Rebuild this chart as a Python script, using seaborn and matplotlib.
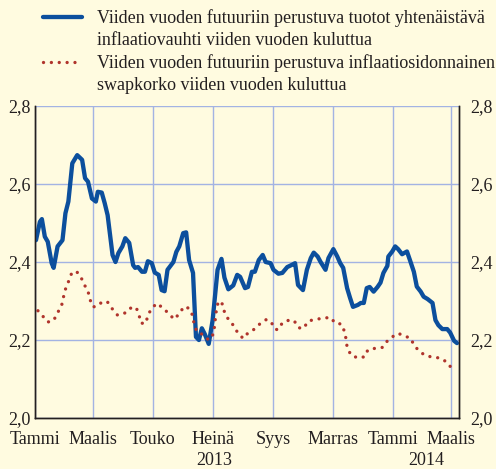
import pandas as pd
import matplotlib.pyplot as plt
import matplotlib.dates as mdates
from matplotlib.lines import Line2D
import seaborn as sns

# values (days counted from 1 Jan 2013)
blue_day = [1, 5, 7, 10, 13, 17, 19, 23, 28, 31, 34, 38, 43, 48, 51, 54, 58, 62, 64, 68,
            71, 74, 79, 82, 85, 89, 92, 96, 100, 102, 105, 109, 112, 115, 119, 122, 126, 129, 132, 135,
            138, 141, 144, 147, 151, 154, 157, 161, 164, 167, 170, 173, 177, 181, 184, 186, 190, 193, 197, 202,
            206, 209, 214, 217, 221, 224, 228, 232, 235, 240, 243, 248, 252, 257, 262, 265, 268, 273, 277, 281,
            284, 288, 291, 296, 299, 304, 308, 311, 314, 318, 321, 324, 329, 332, 335, 338, 341, 345, 349, 352,
            355, 359, 360, 364, 367, 370, 374, 379, 382, 386, 389, 393, 396, 400, 405, 408, 411, 415, 420, 423,
            427, 430]
blue_val = [2.456, 2.503, 2.51, 2.465, 2.452, 2.397, 2.385, 2.44, 2.456, 2.525, 2.555, 2.653, 2.674, 2.662, 2.615, 2.606, 2.563, 2.555, 2.58, 2.578,
            2.551, 2.52, 2.418, 2.40, 2.423, 2.44, 2.461, 2.449, 2.392, 2.385, 2.387, 2.375, 2.375, 2.402, 2.397, 2.373, 2.367, 2.328, 2.325, 2.38,
            2.39, 2.40, 2.426, 2.44, 2.474, 2.476, 2.405, 2.372, 2.208, 2.20, 2.23, 2.215, 2.19, 2.251, 2.328, 2.38, 2.408, 2.36, 2.33, 2.34,
            2.367, 2.362, 2.333, 2.336, 2.375, 2.375, 2.405, 2.418, 2.40, 2.397, 2.38, 2.37, 2.372, 2.387, 2.393, 2.397, 2.341, 2.328, 2.38, 2.41,
            2.424, 2.414, 2.40, 2.38, 2.41, 2.433, 2.414, 2.397, 2.385, 2.333, 2.308, 2.285, 2.29, 2.295, 2.295, 2.333, 2.336, 2.324, 2.336, 2.347,
            2.372, 2.39, 2.414, 2.427, 2.44, 2.433, 2.42, 2.427, 2.405, 2.375, 2.337, 2.324, 2.311, 2.305, 2.295, 2.251, 2.238, 2.228, 2.228, 2.219,
            2.198, 2.192]

red_day = [3, 8, 13, 19, 23, 27, 29, 31, 34, 37, 42, 47, 50, 54, 56, 59, 63, 69, 74, 79,
           84, 91, 96, 103, 106, 108, 113, 115, 119, 124, 131, 136, 142, 147, 152, 157, 161, 162, 165, 171,
           177, 182, 183, 184, 185, 187, 191, 193, 197, 202, 206, 212, 217, 223, 229, 236, 241, 245, 248, 252,
           257, 264, 268, 273, 279, 286, 294, 301, 306, 312, 315, 317, 318, 322, 329, 336, 339, 345, 354, 358,
           364, 370, 377, 383, 386, 392, 398, 405, 412, 417, 422, 430]
red_val = [2.275, 2.261, 2.246, 2.25, 2.27, 2.287, 2.31, 2.33, 2.349, 2.369, 2.377, 2.36, 2.343, 2.325, 2.304, 2.285, 2.286, 2.299, 2.297, 2.279,
           2.264, 2.268, 2.281, 2.284, 2.264, 2.243, 2.243, 2.264, 2.281, 2.294, 2.281, 2.268, 2.253, 2.268, 2.286, 2.281, 2.261, 2.241, 2.221, 2.214,
           2.2, 2.216, 2.238, 2.26, 2.281, 2.30, 2.292, 2.272, 2.253, 2.238, 2.221, 2.204, 2.218, 2.227, 2.241, 2.253, 2.244, 2.227, 2.227, 2.244,
           2.25, 2.25, 2.232, 2.229, 2.249, 2.253, 2.256, 2.258, 2.243, 2.241, 2.224, 2.202, 2.181, 2.161, 2.154, 2.157, 2.174, 2.178, 2.181, 2.195,
           2.208, 2.217, 2.21, 2.204, 2.187, 2.17, 2.16, 2.156, 2.154, 2.148, 2.133, 2.129]

blue_label = ["Viiden vuoden futuuriin perustuva tuotot yhtenäistävä",
              "inflaatiovauhti viiden vuoden kuluttua"]
red_label = ["Viiden vuoden futuuriin perustuva inflaatiosidonnainen",
             "swapkorko viiden vuoden kuluttua"]

month_ticks = ["2013-01-01", "2013-03-01", "2013-05-01", "2013-07-01",
               "2013-09-01", "2013-11-01", "2014-01-01", "2014-03-01"]
month_labels = ["Tammi", "Maalis", "Touko", "Heinä", "Syys", "Marras", "Tammi", "Maalis"]
years = ["2013", "2014"]
y_ticks = [2.0, 2.2, 2.4, 2.6, 2.8]
y_labels = ["2,0", "2,2", "2,4", "2,6", "2,8"]

bg = "#FFFBE0"
blue = "#0C4F9D"
red = "#B0342C"
grid = "#A3B3E3"
ink = "#231F20"
dots = (0, (0.01, 2.35))

start = pd.Timestamp("2013-01-01")
blue_df = pd.DataFrame({"date": start + pd.to_timedelta(blue_day, "D"), "value": blue_val})
red_df = pd.DataFrame({"date": start + pd.to_timedelta(red_day, "D"), "value": red_val})

sns.set_style("white")
plt.rcParams["font.family"] = ["Liberation Serif", "DejaVu Serif"]
plt.rcParams["font.size"] = 13
plt.rcParams["text.color"] = ink

fig = plt.figure(figsize=(4.96, 4.69), dpi=100, facecolor=bg)
ax = fig.add_axes([35 / 496, 1 - 418 / 469, 424 / 496, 312 / 469])
ax.set_facecolor(bg)

sns.lineplot(data=blue_df, x="date", y="value", ax=ax, color=blue, linewidth=3.1,
             solid_joinstyle="round", zorder=3)
sns.lineplot(data=red_df, x="date", y="value", ax=ax, color=red, linewidth=2.4,
             linestyle=dots, dash_capstyle="round", zorder=4)

xlim = (start, pd.Timestamp("2014-03-09"))
ax.set_xlim(xlim)
ax.set_ylim(2.0, 2.8)
ax.set_xlabel("")
ax.set_ylabel("")

tick_dates = pd.to_datetime(month_ticks)
ax.set_xticks(tick_dates)
ax.set_xticklabels(month_labels)
ax.set_yticks(y_ticks)
ax.set_yticklabels(y_labels)
ax.grid(True, color=grid, linewidth=1.0)
ax.set_axisbelow(True)

ax.tick_params(axis="x", length=2.5, width=0.9, color=ink, pad=7, labelsize=13, labelcolor=ink)
ax.tick_params(axis="y", length=0, pad=3, labelsize=13, labelcolor=ink)
for t, d in zip(ax.xaxis.get_major_ticks(), tick_dates):
    if d.month == 1:
        t.tick1line.set_markersize(5 if d.year == 2013 else 8)

ax2 = ax.twinx()
ax2.set_ylim(2.0, 2.8)
ax2.set_yticks(y_ticks)
ax2.set_yticklabels(y_labels)
ax2.tick_params(axis="y", length=0, pad=8, labelsize=13, labelcolor=ink)

for a in (ax, ax2):
    a.spines["top"].set_visible(False)
    for s in ("left", "right", "bottom"):
        a.spines[s].set_color(ink)
        a.spines[s].set_linewidth(1.0)

# year labels centred under the visible part of each year
yr_pos = [start + (pd.Timestamp("2014-01-01") - start) / 2,
          pd.Timestamp("2014-01-01") + (xlim[1] - pd.Timestamp("2014-01-01")) / 2]
for yr, pos in zip(years, yr_pos):
    ax.text(mdates.date2num(pos), -0.135, yr, transform=ax.get_xaxis_transform(),
            ha="center", va="center", fontsize=13, color=ink)

blank = Line2D([], [], color="none")
handles = [Line2D([], [], color=blue, linewidth=3.1), blank,
           Line2D([], [], color=red, linewidth=2.4, linestyle=dots, dash_capstyle="round"), blank]
labels = [blue_label[0], blue_label[1], red_label[0], red_label[1]]
fig.legend(handles, labels, loc="upper left", bbox_to_anchor=(43 / 496, 0.98), frameon=False,
           handlelength=2.17, handletextpad=0.83, labelspacing=0.27, borderpad=0,
           borderaxespad=0, fontsize=13, labelcolor=ink)

fig.savefig("out.png", dpi=100, facecolor=bg)
